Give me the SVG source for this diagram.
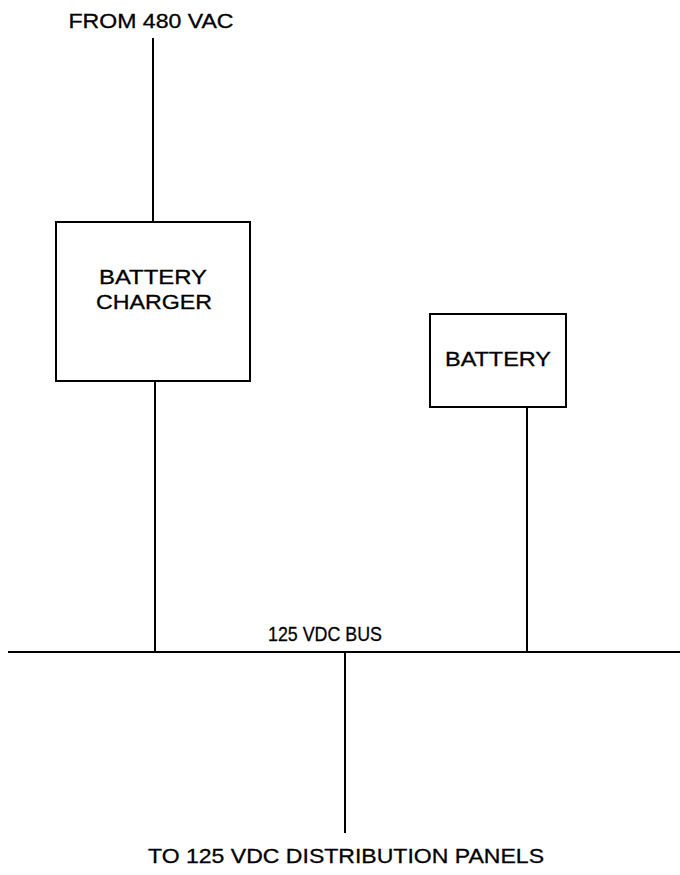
<svg xmlns="http://www.w3.org/2000/svg" width="680" height="875" viewBox="0 0 680 875">
<style>
text{font-family:"Liberation Sans",Arial,sans-serif;font-size:21px;fill:#000;stroke:#000;stroke-width:0.3;text-anchor:middle}
.box{fill:#fff;stroke:#000;stroke-width:2}
.w{stroke:#000;stroke-width:2;fill:none}
</style>
<rect width="680" height="875" fill="#fff"/>
<g id="connectors">
<line class="w" x1="153" y1="38" x2="153" y2="222"/>
<line class="w" x1="155" y1="381" x2="155" y2="652"/>
<line class="w" x1="527" y1="407" x2="527" y2="652"/>
<line class="w" x1="8" y1="652" x2="680" y2="652" stroke-width="2.5"/>
<line class="w" x1="345" y1="652" x2="345" y2="833"/>
</g>
<g id="source"><text x="151" y="28" textLength="165" lengthAdjust="spacingAndGlyphs">FROM 480 VAC</text></g>
<g id="charger">
<rect class="box" x="56" y="222" width="194" height="159"/>
<text x="153" y="284" textLength="108" lengthAdjust="spacingAndGlyphs">BATTERY</text>
<text x="154" y="309" textLength="116" lengthAdjust="spacingAndGlyphs">CHARGER</text>
</g>
<g id="battery">
<rect class="box" x="430" y="314" width="136" height="93"/>
<text x="498" y="366" textLength="106" lengthAdjust="spacingAndGlyphs">BATTERY</text>
</g>
<g id="bus"><text x="325" y="641" textLength="114" lengthAdjust="spacingAndGlyphs">125 VDC BUS</text></g>
<g id="load"><text x="346" y="863" textLength="396" lengthAdjust="spacingAndGlyphs">TO 125 VDC DISTRIBUTION PANELS</text></g>
</svg>
